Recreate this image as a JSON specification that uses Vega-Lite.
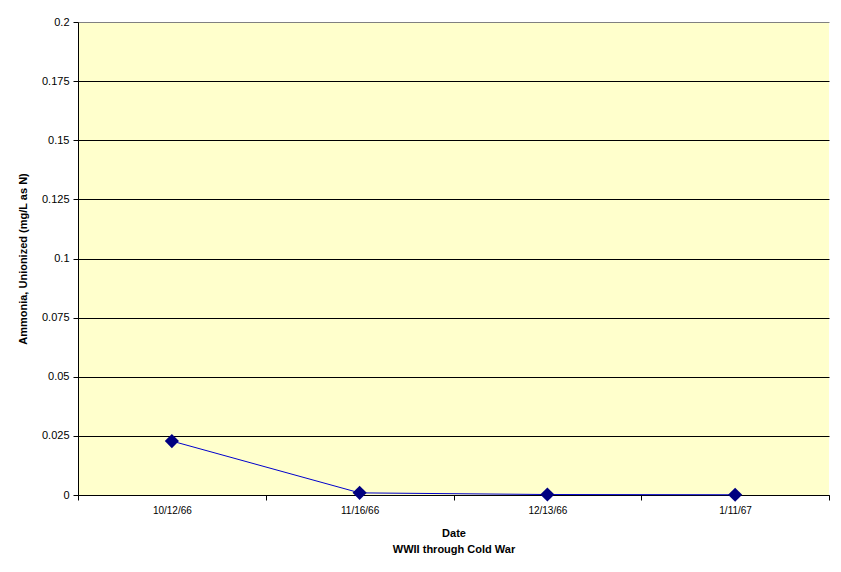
{
  "$schema": "https://vega.github.io/schema/vega-lite/v6.json",
  "width": 751,
  "height": 473,
  "autosize": {"type": "none"},
  "padding": {"left": 78, "top": 22, "right": 12, "bottom": 77},
  "background": "white",
  "config": {
    "view": {"fill": "#FFFFCC", "stroke": null},
    "font": "Liberation Sans"
  },
  "data": {
    "values": [
      {"date": "10/12/66", "value": 0.0228},
      {"date": "11/16/66", "value": 0.0009},
      {"date": "12/13/66", "value": 0.0002},
      {"date": "1/11/67", "value": 0.0001}
    ]
  },
  "encoding": {
    "x": {
      "field": "date",
      "type": "nominal",
      "sort": null,
      "scale": {"type": "band", "paddingInner": 0, "paddingOuter": 0},
      "axis": {
        "title": ["Date", "WWII through Cold War"],
        "titleFont": "Liberation Sans",
        "titleFontSize": 11,
        "titleFontWeight": "bold",
        "titleColor": "black",
        "titleLineHeight": 16,
        "titlePadding": 12,
        "labelAngle": 0,
        "labelFontSize": 10,
        "labelColor": "black",
        "labelPadding": 5,
        "tickBand": "extent",
        "tickColor": "black",
        "tickSize": 5,
        "domainColor": "black",
        "grid": false
      }
    },
    "y": {
      "field": "value",
      "type": "quantitative",
      "scale": {"domain": [0, 0.2], "nice": false},
      "axis": {
        "title": "Ammonia, Unionized (mg/L as N)",
        "titleFont": "Liberation Sans",
        "titleFontSize": 11,
        "titleFontWeight": "bold",
        "titleColor": "black",
        "titlePadding": 13,
        "values": [0, 0.025, 0.05, 0.075, 0.1, 0.125, 0.15, 0.175, 0.2],
        "labelExpr": "datum.value",
        "labelFontSize": 11,
        "labelColor": "black",
        "labelPadding": 4,
        "tickColor": "black",
        "tickSize": 5,
        "domainColor": "black",
        "grid": true,
        "gridColor": {"condition": {"test": "datum.value === 0.2", "value": "#808080"}, "value": "black"},
        "gridOpacity": 1
      }
    }
  },
  "layer": [
    {"mark": {"type": "line", "color": "#0000CC", "strokeWidth": 1}},
    {"mark": {"type": "point", "shape": "diamond", "filled": true, "color": "#000080", "opacity": 1, "size": 200}}
  ]
}
